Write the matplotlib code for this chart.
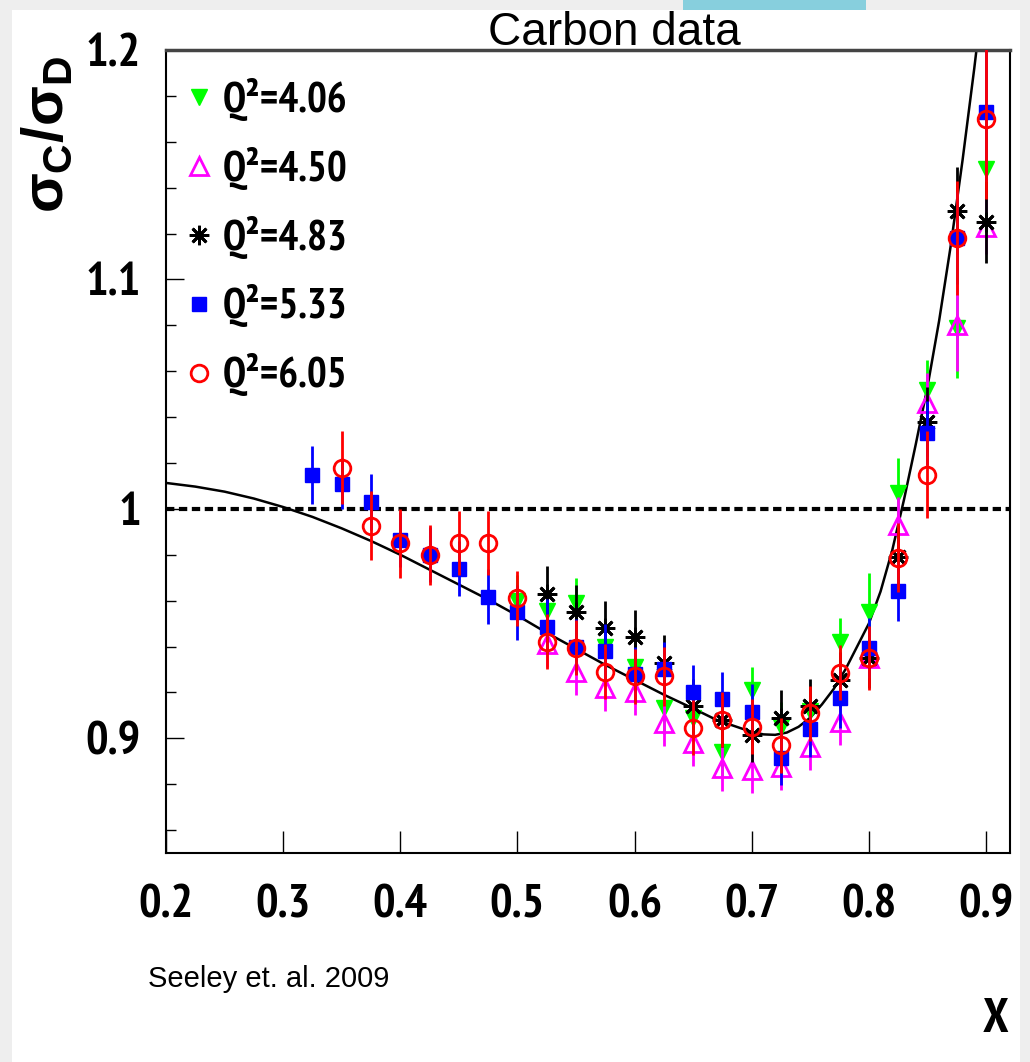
import matplotlib
matplotlib.use('Agg')
import numpy as np
import matplotlib.pyplot as plt
import matplotlib as mpl
from matplotlib import font_manager
from matplotlib.lines import Line2D
from matplotlib.patches import Rectangle
from matplotlib.ticker import MultipleLocator

# %%
# Carbon / deuterium cross section ratio, five Q^2 settings
x_q406 = [0.5, 0.525, 0.55, 0.575, 0.6, 0.625, 0.65, 0.675, 0.7, 0.725, 0.75,
          0.775, 0.8, 0.825, 0.85, 0.875, 0.9]
r_q406 = [0.960, 0.9556, 0.959, 0.940, 0.931, 0.913, 0.909, 0.894, 0.921, 0.905,
          0.912, 0.942, 0.955, 1.007, 1.052, 1.079, 1.148]
e_q406 = [0.011, 0.011, 0.011, 0.011, 0.011, 0.011, 0.011, 0.011, 0.010, 0.011,
          0.011, 0.0105, 0.017, 0.015, 0.013, 0.022, 0.020]

x_q450 = [0.525, 0.55, 0.575, 0.6, 0.625, 0.65, 0.675, 0.7, 0.725, 0.75, 0.775,
          0.8, 0.825, 0.85, 0.875, 0.9]
r_q450 = [0.941, 0.929, 0.922, 0.920, 0.9065, 0.898, 0.887, 0.886, 0.8876, 0.896,
          0.907, 0.935, 0.993, 1.046, 1.080, 1.123]
e_q450 = [0.010, 0.010, 0.010, 0.010, 0.010, 0.010, 0.010, 0.010, 0.010, 0.010,
          0.010, 0.011, 0.012, 0.013, 0.020, 0.012]

x_q483 = [0.525, 0.55, 0.575, 0.6, 0.625, 0.65, 0.675, 0.7, 0.725, 0.75, 0.775,
          0.8, 0.825, 0.85, 0.875, 0.9]
r_q483 = [0.963, 0.955, 0.948, 0.944, 0.933, 0.914, 0.908, 0.9015, 0.909, 0.914,
          0.9255, 0.935, 0.979, 1.038, 1.130, 1.125]
e_q483 = [0.012, 0.012, 0.012, 0.012, 0.012, 0.012, 0.012, 0.012, 0.012, 0.012,
          0.012, 0.013, 0.014, 0.015, 0.019, 0.018]

x_q533 = [0.325, 0.35, 0.375, 0.4, 0.425, 0.45, 0.475, 0.5, 0.525, 0.55, 0.575,
          0.6, 0.625, 0.65, 0.675, 0.7, 0.725, 0.75, 0.775, 0.8, 0.825, 0.85,
          0.875, 0.9]
r_q533 = [1.0148, 1.011, 1.003, 0.9865, 0.980, 0.974, 0.9617, 0.955, 0.9486,
          0.940, 0.938, 0.928, 0.930, 0.920, 0.917, 0.9116, 0.8915, 0.904,
          0.9176, 0.9394, 0.964, 1.033, 1.118, 1.173]
e_q533 = [0.0125, 0.011, 0.012, 0.012, 0.012, 0.012, 0.012, 0.012, 0.012, 0.012,
          0.012, 0.012, 0.012, 0.012, 0.012, 0.012, 0.012, 0.012, 0.013, 0.013,
          0.013, 0.014, 0.020, 0.030]

x_q605 = [0.35, 0.375, 0.4, 0.425, 0.45, 0.475, 0.5, 0.525, 0.55, 0.575, 0.6,
          0.625, 0.65, 0.675, 0.7, 0.725, 0.75, 0.775, 0.8, 0.825, 0.85, 0.875,
          0.9]
r_q605 = [1.018, 0.9926, 0.985, 0.980, 0.985, 0.985, 0.961, 0.942, 0.9395, 0.929,
          0.927, 0.927, 0.9046, 0.908, 0.905, 0.897, 0.911, 0.9285, 0.935, 0.9787,
          1.0148, 1.118, 1.170]
e_q605 = [0.016, 0.015, 0.015, 0.013, 0.014, 0.014, 0.012, 0.012, 0.012, 0.012,
          0.012, 0.013, 0.012, 0.012, 0.012, 0.012, 0.012, 0.012, 0.014, 0.015,
          0.019, 0.025, 0.035]

# model curve
fit_x = [0.2, 0.225, 0.25, 0.275, 0.3, 0.325, 0.35, 0.375, 0.4, 0.425, 0.45,
         0.475, 0.5, 0.525, 0.55, 0.575, 0.6, 0.625, 0.65, 0.67, 0.69, 0.7,
         0.71, 0.72, 0.73, 0.74, 0.75, 0.76, 0.77, 0.78, 0.79, 0.8, 0.81, 0.82,
         0.83, 0.84, 0.85, 0.86, 0.87, 0.88, 0.89, 0.9]
fit_y = [1.0113, 1.0097, 1.0075, 1.0045, 1.0008, 0.9965, 0.9915, 0.986, 0.980,
         0.9735, 0.967, 0.9605, 0.9535, 0.946, 0.939, 0.932, 0.9255, 0.919,
         0.913, 0.908, 0.9045, 0.9028, 0.9017, 0.9015, 0.9025, 0.905, 0.909,
         0.9148, 0.9215, 0.930, 0.940, 0.950, 0.964, 0.982, 1.004, 1.028, 1.053,
         1.082, 1.115, 1.152, 1.192, 1.235]

x_ticks = [0.2, 0.3, 0.4, 0.5, 0.6, 0.7, 0.8, 0.9]
x_ticklabels = ['0.2', '0.3', '0.4', '0.5', '0.6', '0.7', '0.8', '0.9']
y_ticks = [0.9, 1.0, 1.1, 1.2]
y_ticklabels = ['0.9', '1', '1.1', '1.2']


# %%
# Pick a condensed bold sans for the ROOT style labels
def pick_narrow():
    have = {}
    for f in font_manager.fontManager.ttflist:
        w = f.weight if isinstance(f.weight, int) else 400
        have.setdefault(f.name, set()).add(w)
    for name in ['Liberation Sans Narrow', 'Arial Narrow', 'Nimbus Sans Narrow',
                 'PT Sans Narrow', 'Archivo Narrow', 'Roboto Condensed',
                 'Fira Sans Condensed', 'IBM Plex Sans Condensed',
                 'Encode Sans Condensed', 'Pragati Narrow']:
        if name in have and max(have[name]) >= 700:
            return name
    return 'DejaVu Sans'


narrow = pick_narrow()
mpl.rcParams['mathtext.fontset'] = 'custom'
mpl.rcParams['mathtext.rm'] = 'Liberation Sans:bold'
mpl.rcParams['mathtext.it'] = 'Liberation Sans:bold'
mpl.rcParams['mathtext.bf'] = 'Liberation Sans:bold'

W, H = 1030, 1062
fig = plt.figure(figsize=(W / 100, H / 100), dpi=100, facecolor='#eeeeee')
fig.patches.append(Rectangle((12 / W, 0), (1020 - 12) / W, (H - 10) / H,
                             transform=fig.transFigure, facecolor='white',
                             edgecolor='none', zorder=-2))
fig.patches.append(Rectangle((683 / W, 1 - 10 / H), (866 - 683) / W, 10 / H,
                             transform=fig.transFigure, facecolor='#87cfdd',
                             edgecolor='none', zorder=-2))

ax = fig.add_axes([166 / W, (H - 853) / H, (1010 - 166) / W, (853 - 50) / H])
ax.set_facecolor('none')

# series: (x, y, err, marker, colour, kwargs, label)
series = [
    (x_q406, r_q406, e_q406, 'v', '#00ff00', dict(ms=11), 'Q²=4.06'),
    (x_q450, r_q450, e_q450, '^', '#ff00ff', dict(ms=13, mfc='none', mew=2), 'Q²=4.50'),
    (x_q483, r_q483, e_q483, (8, 2, 0), 'black', dict(ms=14, mew=2), 'Q²=4.83'),
    (x_q533, r_q533, e_q533, 's', '#0000ff', dict(ms=10), 'Q²=5.33'),
    (x_q605, r_q605, e_q605, 'o', '#ff0000', dict(ms=12, mfc='none', mew=2), 'Q²=6.05'),
]

ax.axhline(1.0, color='black', lw=3.0, ls=(0, (2.0, 1.1)), zorder=1)
ax.plot(fit_x, fit_y, '-', color='black', lw=1.8, zorder=2)

handles = []
for i, (xs, ys, es, mk, col, kw, lab) in enumerate(series):
    ax.errorbar(xs, ys, yerr=es, fmt='none', ecolor=col, elinewidth=2,
                capsize=0, zorder=3 + i)
    ax.plot(xs, ys, ls='none', marker=mk, color=col, mec=col, zorder=3.5 + i, **kw)
    handles.append(Line2D([], [], ls='none', marker=mk, color=col, mec=col,
                          label=lab, **kw))

leg = ax.legend(handles=handles, loc='upper left', bbox_to_anchor=(0.0, 0.986),
                frameon=False, handlelength=0.8, handletextpad=0.15,
                labelspacing=0.62, borderaxespad=0, borderpad=0.4,
                prop={'family': narrow, 'weight': 'bold', 'size': 30})

ax.set_xlim(0.2, 0.9205)
ax.set_ylim(0.85, 1.2)
ax.set_xticks(x_ticks)
ax.set_xticklabels(x_ticklabels)
ax.set_yticks(y_ticks)
ax.set_yticklabels(y_ticklabels)
ax.yaxis.set_minor_locator(MultipleLocator(0.02))
ax.tick_params(axis='x', which='major', direction='in', length=16, width=1,
               pad=23, labelsize=34)
ax.tick_params(axis='y', which='major', direction='in', length=13, width=1,
               pad=18, labelsize=34)
ax.tick_params(axis='y', which='minor', direction='in', length=7, width=1)
for lbl in ax.get_xticklabels() + ax.get_yticklabels():
    lbl.set_fontfamily(narrow)
    lbl.set_fontweight('bold')

for side in ['left', 'bottom', 'right']:
    ax.spines[side].set_linewidth(1.5)
ax.spines['top'].set_linewidth(2.5)
ax.spines['top'].set_color('#444444')

# Texts
fig.text(614 / W, 1 - 45 / H, 'Carbon data', ha='center', va='baseline',
         family='Liberation Sans', fontsize=33)
fig.text(148 / W, 1 - 987 / H, 'Seeley et. al. 2009', ha='left', va='baseline',
         family='Liberation Sans', fontsize=21)
fig.text(996 / W, 1 - 1020 / H, 'X', ha='center', va='center',
         family=narrow, fontweight='bold', fontsize=35)
fig.text(46 / W, 1 - 135 / H, r'$\sigma_{C}/\sigma_{D}$', rotation=90,
         ha='center', va='center', fontsize=42)

fig.savefig('out.png', dpi=100, facecolor=fig.get_facecolor())
